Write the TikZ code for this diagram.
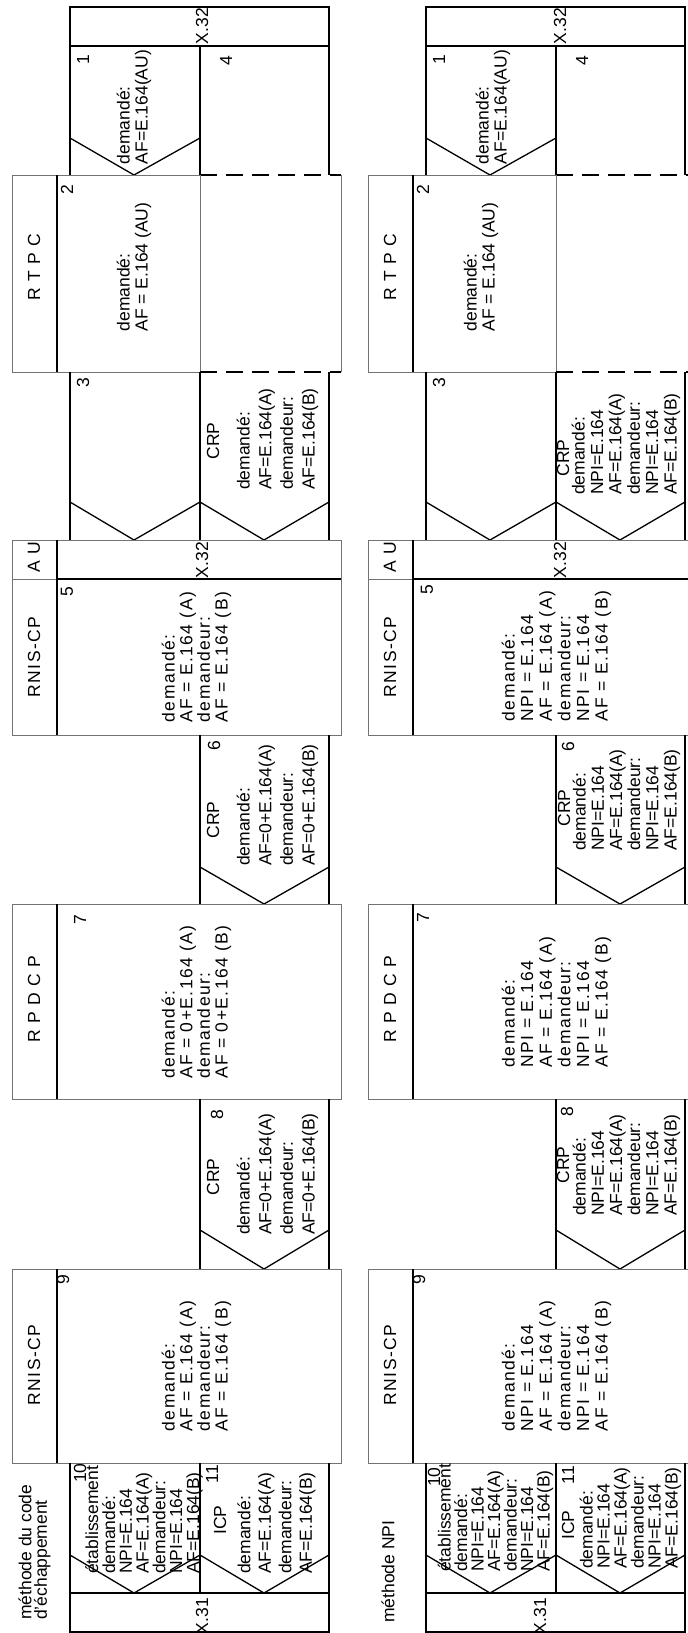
\documentclass[tikz,border=0pt]{standalone}
\usepackage{fontspec}
\setmainfont{Liberation Sans}
\newcommand\fsz[1]{\fontsize{17.5}{#1}\selectfont}
\tikzset{
  bord/.style={line width=2.2pt, black},
  grayln/.style={line width=1pt, black!55},
  vln/.style={line width=1.3pt, black},
  dsh/.style={line width=2.2pt, black, dash pattern=on 17pt off 9pt},
  num/.style={rotate=90, inner sep=0pt, font=\fsz{18}},
  lab/.style={rotate=90, inner sep=0pt, font=\fsz{18}\addfontfeature{LetterSpace=8}},
  tx/.style={rotate=90, inner sep=0pt, align=left, font=\fsz{#1}},
  ent/.style={rotate=90, inner sep=0pt, align=left, font=\fsz{#1}\addfontfeature{LetterSpace=8}},
}
\newcommand\drawframe{%
  % top X.32 box and boxes 1/4
  \draw[bord] (70,7) rectangle (329,46);
  \draw[bord] (70,46) -- (70,175);
  \draw[bord] (200,46) -- (200,175);
  \draw[bord] (329,46) -- (329,175);
  \draw[vln] (70,138) -- (134,175) -- (200,138);
  \draw[dsh] (200,175) -- (341,175);
  % RTPC
  \draw[grayln] (200,175) -- (12,175) -- (12,372) -- (200,372);
  \draw[grayln] (341,175) -- (341,372);
  \draw[grayln] (200,175) -- (200,372);
  \draw[bord] (57,175) -- (57,372);
  % box 3 and CRP
  \draw[bord] (70,372) -- (70,540);
  \draw[bord] (200,372) -- (200,540);
  \draw[bord] (329,372) -- (329,540);
  \draw[vln] (70,502) -- (134,540) -- (200,502) -- (264,540) -- (329,502);
  \draw[dsh] (200,372) -- (341,372);
  % AU
  \draw[grayln] (12,540) rectangle (341,579);
  \draw[bord] (57,540) -- (57,579);
  \draw[bord] (57,579) -- (341,579);
  % RNIS-CP 5
  \draw[grayln] (12,579) -- (12,735) -- (341,735) -- (341,579);
  \draw[bord] (57,579) -- (57,735);
  % box 6
  \draw[bord] (200,735) -- (200,904);
  \draw[bord] (329,735) -- (329,904);
  \draw[vln] (200,867) -- (264,904) -- (329,867);
  % RPDCP 7
  \draw[grayln] (12,904) rectangle (341,1099);
  \draw[bord] (57,904) -- (57,1099);
  % box 8
  \draw[bord] (200,1099) -- (200,1269);
  \draw[bord] (329,1099) -- (329,1269);
  \draw[vln] (200,1230) -- (264,1269) -- (329,1230);
  % RNIS-CP 9
  \draw[grayln] (12,1269) rectangle (341,1463);
  \draw[bord] (57,1269) -- (57,1463);
  % boxes 10/11
  \draw[bord] (70,1463) -- (70,1593);
  \draw[bord] (200,1463) -- (200,1593);
  \draw[bord] (329,1463) -- (329,1593);
  \draw[vln] (70,1555) -- (134,1593) -- (200,1555) -- (264,1593) -- (329,1555);
  % X.31
  \draw[bord] (70,1593) rectangle (329,1632);
}
\begin{document}
\begin{tikzpicture}[x=1pt,y=-1pt]
\useasboundingbox (0,0) rectangle (688,1633);
\clip (0,0) rectangle (688,1633);
\fill[white] (0,0) rectangle (688,1633);
\drawframe
\begin{scope}[xshift=356pt]
\drawframe
\end{scope}

% ---------------- left panel: méthode du code d'échappement
\node[num] (L1) at (83,60) {1};
\node[num] (L4) at (226,61) {4};
\node[num] (LX32a) at (202,26) {X.32};
\node[tx=18] (Lt1) at (134,107) {demandé:\\AF=E.164(AU)};
\node[lab] (LRTPC) at (34,267) {R T P C};
\node[num] (L2) at (67,190) {2};
\node[tx=18] (Lt2) at (134,267) {demandé:\\AF = E.164 (AU)};
\node[num] (L3) at (83,383) {3};
\node[num] (LCRP3) at (213,441) {CRP};
\node[tx=21.7] (Lt3) at (277.5,439) {demandé:\\AF=E.164(A)\\demandeur:\\AF=E.164(B)};
\node[lab] (LAU) at (34,557) {A U};
\node[num] (LX32b) at (202,560) {X.32};
\node[lab] (LR5) at (34,657) {RNIS-CP};
\node[num] (L5) at (67,592) {5};
\node[ent=17.7] (Lt5) at (196.5,657) {demandé:\\AF = E.164 (A)\\demandeur:\\AF = E.164 (B)};
\node[num] (L6) at (214,746) {6};
\node[num] (LCRP6) at (213,820) {CRP};
\node[tx=21.7] (Lt6) at (277.5,805) {demandé:\\AF=0+E.164(A)\\demandeur:\\AF=0+E.164(B)};
\node[lab] (LR7) at (34,999) {R P D C P};
\node[num] (L7) at (80,920) {7};
\node[ent=17.7] (Lt7) at (196.5,1002) {demandé:\\AF = 0+E.164 (A)\\demandeur:\\AF = 0+E.164 (B)};
\node[num] (L8) at (217,1115) {8};
\node[num] (LCRP8) at (213,1177) {CRP};
\node[tx=21.7] (Lt8) at (277.5,1174) {demandé:\\AF=0+E.164(A)\\demandeur:\\AF=0+E.164(B)};
\node[lab] (LR9) at (34,1365) {RNIS-CP};
\node[num] (L9) at (63,1280) {9};
\node[ent=17.7] (Lt9) at (196.5,1366) {demandé:\\AF = E.164 (A)\\demandeur:\\AF = E.164 (B)};
\node[num] (L10) at (80,1473) {10};
\node[tx=16.8, anchor=west] (Lt10) at (144,1574) {établissement\\demandé:\\NPI=E.164\\AF=E.164(A)\\demandeur:\\NPI=E.164\\AF=E.164(B)};
\node[num] (L11) at (212,1474) {11};
\node[num] (LICP) at (220,1520) {ICP};
\node[tx=20.5] (Lt11) at (276.5,1523) {demandé:\\AF=E.164(A)\\demandeur:\\AF=E.164(B)};
\node[num] (LX31) at (202,1616) {X.31};
\node[tx=15.5, anchor=west] (Ltitle) at (34.5,1620) {méthode du code\\d'échappement};

% ---------------- right panel: méthode NPI
\node[num] (R1) at (439,60) {1};
\node[num] (R4) at (582,61) {4};
\node[num] (RX32a) at (560,26) {X.32};
\node[tx=18] (Rt1) at (493,107) {demandé:\\AF=E.164(AU)};
\node[lab] (RRTPC) at (390,267) {R T P C};
\node[num] (R2) at (423,190) {2};
\node[tx=18] (Rt2) at (481,267) {demandé:\\AF = E.164 (AU)};
\node[num] (R3) at (439,383) {3};
\node[num] (RCRP3) at (563,458) {CRP};
\node[tx=18.4] (Rt3) at (626,444) {demandé:\\NPI=E.164\\AF=E.164(A)\\demandeur:\\NPI=E.164\\AF=E.164(B)};
\node[lab] (RAU) at (390,557) {A U};
\node[num] (RX32b) at (560,560) {X.32};
\node[lab] (RR5) at (390,657) {RNIS-CP};
\node[num] (R5) at (427,590) {5};
\node[ent=18.6] (Rt5) at (556.5,656) {demandé:\\NPI = E.164\\AF = E.164 (A)\\demandeur:\\NPI = E.164\\AF = E.164 (B)};
\node[num] (R6) at (568,747) {6};
\node[num] (RCRP6) at (564,808) {CRP};
\node[tx=18.2] (Rt6) at (626.5,800) {demandé:\\NPI=E.164\\AF=E.164(A)\\demandeur:\\NPI=E.164\\AF=E.164(B)};
\node[lab] (RR7) at (390,999) {R P D C P};
\node[num] (R7) at (423,918) {7};
\node[ent=18.6] (Rt7) at (556.5,1002) {demandé:\\NPI = E.164\\AF = E.164 (A)\\demandeur:\\NPI = E.164\\AF = E.164 (B)};
\node[num] (R8) at (567,1112) {8};
\node[num] (RCRP8) at (563,1165) {CRP};
\node[tx=18.2] (Rt8) at (626.5,1165) {demandé:\\NPI=E.164\\AF=E.164(A)\\demandeur:\\NPI=E.164\\AF=E.164(B)};
\node[lab] (RR9) at (390,1365) {RNIS-CP};
\node[num] (R9) at (419,1280) {9};
\node[ent=18.6] (Rt9) at (556.5,1366) {demandé:\\NPI = E.164\\AF = E.164 (A)\\demandeur:\\NPI = E.164\\AF = E.164 (B)};
\node[num] (R10) at (434,1477) {10};
\node[tx=16.5, anchor=west] (Rt10) at (495.5,1572) {établissement\\demandé:\\NPI=E.164\\AF=E.164(A)\\demandeur:\\NPI=E.164\\AF=E.164(B)};
\node[num] (R11) at (568,1475) {11};
\node[num] (RICP) at (568,1525) {ICP};
\node[tx=17] (Rt11) at (630.5,1518) {demandé:\\NPI=E.164\\AF=E.164(A)\\demandeur:\\NPI=E.164\\AF=E.164(B)};
\node[num] (RX31) at (540,1616) {X.31};
\node[tx=15.5, anchor=west] (Rtitle) at (388,1623) {méthode NPI};
\end{tikzpicture}
\end{document}
